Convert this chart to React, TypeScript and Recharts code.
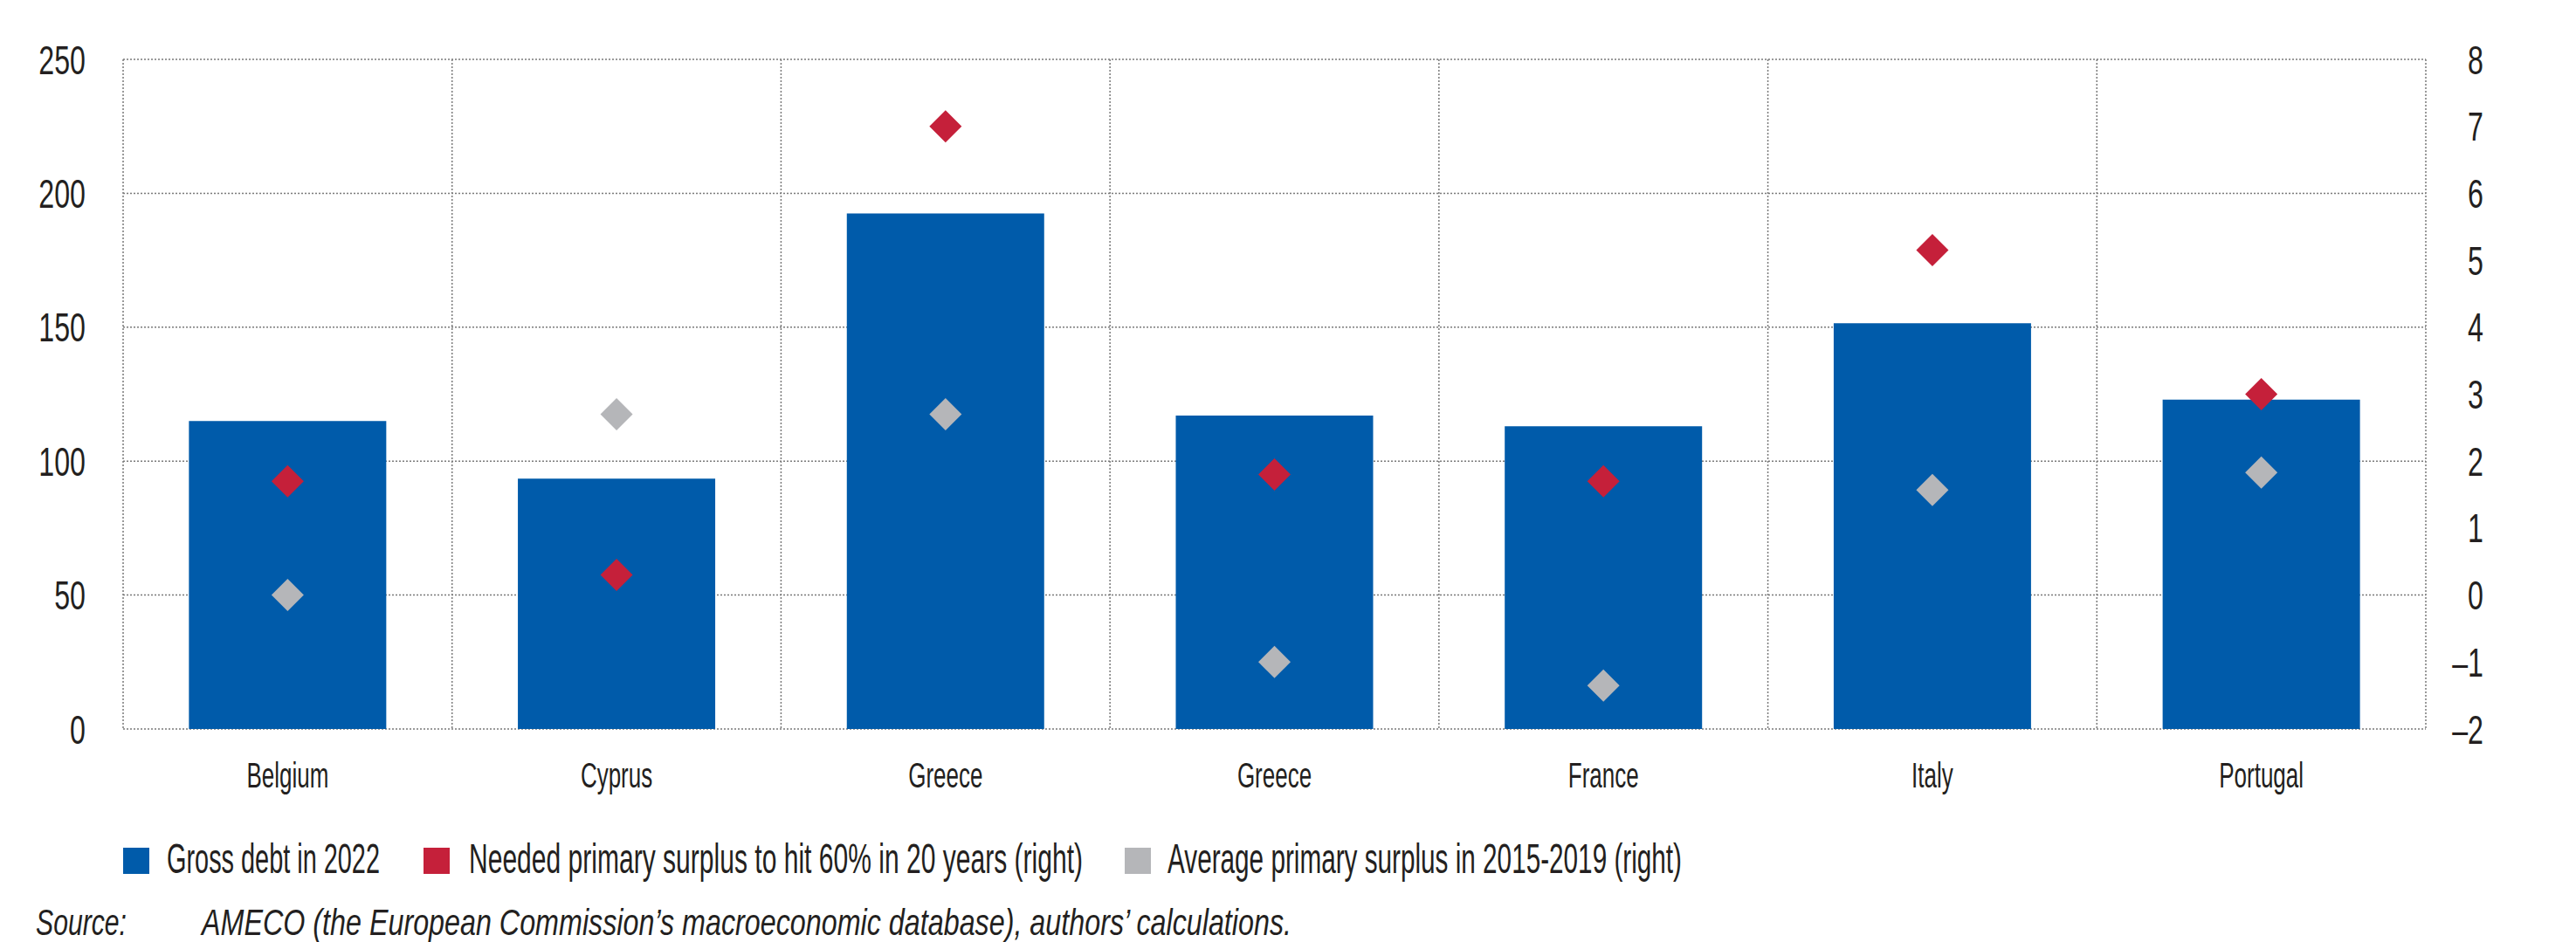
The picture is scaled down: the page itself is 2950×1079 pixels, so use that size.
import React from "react";
import { ComposedChart, Bar, Line, XAxis, YAxis, CartesianGrid } from "recharts";

// gross debt (% of GDP, left axis) and primary surplus (% of GDP, right axis)
const countries = ["Belgium", "Cyprus", "Greece", "Greece", "France", "Italy", "Portugal"];
const grossDebt2022 = [115, 93.5, 192.5, 117, 113, 151.5, 123];
const neededSurplus = [1.7, 0.3, 7.0, 1.8, 1.7, 5.15, 3.0];
const avgSurplus1519 = [0.0, 2.7, 2.7, -1.0, -1.35, 1.57, 1.83];
const leftTicks = [0, 50, 100, 150, 200, 250];
const rightTicks = [-2, -1, 0, 1, 2, 3, 4, 5, 6, 7, 8];

const legendItems = [
  { label: "Gross debt in 2022", color: "#005BAA", x: 133, textX: 183, textW: 244 },
  { label: "Needed primary surplus to hit 60% in 20 years (right)", color: "#C5203A", x: 477, textX: 529, textW: 703 },
  { label: "Average primary surplus in 2015-2019 (right)", color: "#B5B6B9", x: 1280, textX: 1329, textW: 589 },
];

const data = countries.map((country, i) => ({
  country,
  debt: grossDebt2022[i],
  needed: neededSurplus[i],
  avg: avgSurplus1519[i],
}));

const BLUE = "#005BAA";
const RED = "#C5203A";
const GREY = "#B5B6B9";
const INK = "#231F20";
const FONT = '"Liberation Sans", Arial, sans-serif';

const W = 2934;
const H = 907;

const fmtRight = (v: number) => (v < 0 ? "\u2013" + Math.abs(v) : String(v));

// condensed look: squeeze glyphs horizontally around the anchor point
function NarrowText({ x, y, sx, size, anchor, dy, width, italic, children }: any) {
  return (
    <text
      transform={`translate(${x},${y}) scale(${sx},1)`}
      dy={dy}
      textAnchor={anchor}
      fill={INK}
      fontFamily={FONT}
      fontSize={size}
      fontStyle={italic ? "italic" : undefined}
      textLength={width ? width / sx : undefined}
      lengthAdjust={width ? "spacingAndGlyphs" : undefined}
    >
      {children}
    </text>
  );
}

function CountryTick(props: any) {
  const { x, y, payload } = props;
  return (
    <NarrowText x={x} y={y + 67} sx={0.65} size={40} anchor="middle">
      {payload.value}
    </NarrowText>
  );
}

function LeftTick(props: any) {
  const { x, y, payload } = props;
  return (
    <NarrowText x={x - 43} y={y} dy="0.36em" sx={0.7} size={46} anchor="end">
      {payload.value}
    </NarrowText>
  );
}

function RightTick(props: any) {
  const { x, y, payload } = props;
  return (
    <NarrowText x={x + 66} y={y} dy="0.36em" sx={0.7} size={46} anchor="end">
      {fmtRight(payload.value)}
    </NarrowText>
  );
}

function diamond(color: string) {
  return (props: any) => {
    const { cx, cy, index } = props;
    if (cx == null || cy == null) return <g key={index} />;
    const r = 18.5;
    return (
      <polygon
        key={index}
        points={`${cx},${cy - r} ${cx + r},${cy} ${cx},${cy + r} ${cx - r},${cy}`}
        fill={color}
      />
    );
  };
}

// vertical separators sit between categories, not on them
const boundaryLines = ({ offset }: any) =>
  Array.from({ length: countries.length + 1 }, (_, i) => offset.left + (i * offset.width) / countries.length);

export default function App() {
  return (
    <div style={{ position: "relative", width: W, height: 1071 }}>
      <ComposedChart
        width={W}
        height={H}
        data={data}
        margin={{ top: 60, right: 0, bottom: 0, left: 0 }}
        barCategoryGap="20%"
      >
        <CartesianGrid
          yAxisId="left"
          stroke="#7a7a7a"
          strokeWidth={1.5}
          strokeDasharray="2 2"
          verticalCoordinatesGenerator={boundaryLines}
        />
        <XAxis
          dataKey="country"
          height={80}
          interval={0}
          axisLine={false}
          tickLine={false}
          tickSize={0}
          tickMargin={0}
          tick={<CountryTick />}
        />
        <YAxis
          yAxisId="left"
          width={133}
          domain={[0, 250]}
          ticks={leftTicks}
          axisLine={false}
          tickLine={false}
          tickSize={0}
          tickMargin={0}
          tick={<LeftTick />}
        />
        <YAxis
          yAxisId="right"
          orientation="right"
          width={164}
          domain={[-2, 8]}
          ticks={rightTicks}
          axisLine={false}
          tickLine={false}
          tickSize={0}
          tickMargin={0}
          tick={<RightTick />}
        />
        <Bar yAxisId="left" dataKey="debt" fill={BLUE} isAnimationActive={false} />
        <Line
          yAxisId="right"
          dataKey="needed"
          stroke="none"
          dot={diamond(RED)}
          activeDot={false}
          isAnimationActive={false}
        />
        <Line
          yAxisId="right"
          dataKey="avg"
          stroke="none"
          dot={diamond(GREY)}
          activeDot={false}
          isAnimationActive={false}
        />
      </ComposedChart>
      <svg
        width={W}
        height={1071}
        style={{ position: "absolute", left: 0, top: 0, pointerEvents: "none" }}
      >
        {legendItems.map((item) => (
          <g key={item.label}>
            <rect x={item.x} y={963} width={30} height={30} fill={item.color} />
            <NarrowText x={item.textX} y={992} sx={0.6} size={48} width={item.textW}>
              {item.label}
            </NarrowText>
          </g>
        ))}
        <NarrowText x={33} y={1063} sx={0.7} size={42} width={104} italic>
          Source:
        </NarrowText>
        <NarrowText x={223} y={1063} sx={0.7} size={42} width={1248} italic>
          AMECO (the European Commission’s macroeconomic database), authors’ calculations.
        </NarrowText>
      </svg>
    </div>
  );
}
